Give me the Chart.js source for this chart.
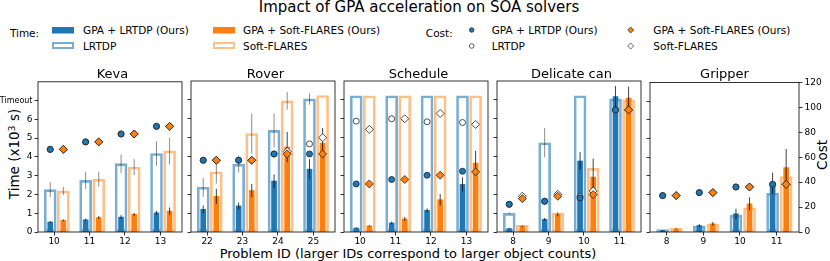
<!DOCTYPE html>
<html>
<head>
<meta charset="utf-8">
<script src="https://cdn.jsdelivr.net/npm/chart.js@4.4.1/dist/chart.umd.min.js"></script>
<style>
  html, body { margin: 0; padding: 0; background: #fff; }
  #fig { position: relative; width: 830px; height: 261px; overflow: hidden; font-family: 'DejaVu Sans', sans-serif; color: #000; }
  .panel { position: absolute; }
  .txt { position: absolute; white-space: nowrap; line-height: 1; }
  .c { transform: translate(-50%, -50%); }
  .l { transform: translateY(-50%); }
  .rot { transform: translate(-50%, -50%) rotate(-90deg); }
  sup { font-size: 0.7em; vertical-align: 0.45em; line-height: 0; }
</style>
</head>
<body>
<div id="fig">
  <div class="txt c" style="left:419px; top:7px; font-size:15px">Impact of GPA acceleration on SOA solvers</div>

  <!-- legend -->
  <svg width="830" height="60" style="position:absolute; left:0; top:0">
    <rect x="52" y="27" width="22" height="6.5" fill="#1f77b4"/>
    <rect x="53" y="43" width="20" height="5" fill="none" stroke="rgba(31,119,180,0.6)" stroke-width="2"/>
    <rect x="213" y="27" width="22" height="6.5" fill="#ff7f0e"/>
    <rect x="214" y="43" width="20" height="5" fill="none" stroke="rgba(255,127,14,0.5)" stroke-width="2"/>
    <circle cx="471.7" cy="30" r="2.3" fill="#1f77b4" stroke="#222" stroke-width="0.7"/>
    <circle cx="471.7" cy="46" r="2.3" fill="#fff" stroke="#222" stroke-width="0.7"/>
    <polygon points="630.7,27 633.7,30 630.7,33 627.7,30" fill="#ff7f0e" stroke="#222" stroke-width="0.7"/>
    <polygon points="630.7,43 633.7,46 630.7,49 627.7,46" fill="#fff" stroke="#222" stroke-width="0.7"/>
  </svg>
  <div class="txt c" style="left:24.5px; top:33px; font-size:10.5px">Time:</div>
  <div class="txt l" style="left:83px; top:30px; font-size:10.5px">GPA + LRTDP (Ours)</div>
  <div class="txt l" style="left:83px; top:46px; font-size:10.5px">LRTDP</div>
  <div class="txt l" style="left:243px; top:30px; font-size:10.5px">GPA + Soft-FLARES (Ours)</div>
  <div class="txt l" style="left:243px; top:46px; font-size:10.5px">Soft-FLARES</div>
  <div class="txt c" style="left:439.3px; top:33px; font-size:10.5px">Cost:</div>
  <div class="txt l" style="left:491.7px; top:30px; font-size:10.5px">GPA + LRTDP (Ours)</div>
  <div class="txt l" style="left:491.7px; top:46px; font-size:10.5px">LRTDP</div>
  <div class="txt l" style="left:653.3px; top:30px; font-size:10.5px">GPA + Soft-FLARES (Ours)</div>
  <div class="txt l" style="left:653.3px; top:46px; font-size:10.5px">Soft-FLARES</div>

  <!-- axis labels -->
  <div class="txt rot" style="left:15px; top:154px; font-size:13.5px">Time (x10<sup>3</sup> s)</div>
  <div class="txt rot" style="left:822.7px; top:155px; font-size:13.5px">Cost</div>
  <div class="txt c" style="left:408px; top:252.7px; font-size:13px">Problem ID (larger IDs correspond to larger object counts)</div>
</div>

<script>
// Data (time in 10^3 s, cost in plan cost units)
const panelNames = ['Keva', 'Rover', 'Schedule', 'Delicate can', 'Gripper'];
const problemIds = [[10, 11, 12, 13], [22, 23, 24, 25], [10, 11, 12, 13], [8, 9, 10, 11], [8, 9, 10, 11]];
const timeTicks = [0, 1, 2, 3, 4, 5, 6, 7];
const timeTickLabels = ['0', '1', '2', '3', '4', '5', '6', 'Timeout'];
const costTicks = [0, 20, 40, 60, 80, 100, 120];

const gpaLrtdpTime = [[0.53, 0.65, 0.80, 1.02], [1.20, 1.38, 2.70, 3.33], [0.21, 0.48, 1.15, 2.52], [0.18, 0.67, 3.76, 7.18], [0.09, 0.35, 0.97, 2.60]];
const gpaLrtdpErr  = [[0.05, 0.06, 0.10, 0.10], [0.20, 0.18, 0.35, 0.53], [0.03, 0.07, 0.10, 0.38], [0.03, 0.08, 0.47, 0.55], [0.02, 0.07, 0.28, 0.57]];
const lrtdpTime    = [[2.26, 2.75, 3.64, 4.18], [2.37, 3.60, 5.38, 7.05], [7.22, 7.22, 7.22, 7.22], [0.99, 4.73, 7.22, 7.05], [0.13, 0.32, 0.90, 2.07]];
const lrtdpErr     = [[0.40, 0.45, 0.50, 0.65], [0.50, 0.45, 0.90, 0.30], [0, 0, 0, 0], [0.05, 0.78, 0, 0], [0, 0, 0, 0]];
const gpaSfTime    = [[0.62, 0.77, 0.94, 1.11], [1.89, 2.20, 4.50, 4.71], [0.32, 0.69, 1.71, 3.65], [0.30, 0.93, 2.91, 7.10], [0.16, 0.44, 1.50, 3.44]];
const gpaSfErr     = [[0.05, 0.08, 0.08, 0.20], [0.40, 0.35, 0.80, 0.80], [0.04, 0.10, 0.30, 0.65], [0.04, 0.10, 0.97, 0.60], [0.03, 0.10, 0.35, 1.00]];
const sfTime       = [[2.19, 2.81, 3.46, 4.32], [3.19, 5.22, 6.95, 7.23], [7.22, 7.22, 7.22, 7.22], [0.37, 1.02, 3.37, 7.00], [0.20, 0.42, 1.29, 2.97]];
const sfErr        = [[0.22, 0.40, 0.42, 0.72], [0.62, 1.06, 0.47, 0], [0, 0, 0, 0], [0, 0, 0, 0], [0, 0, 0, 0]];

const gpaLrtdpCost = [[66, 72, 78.3, 84.4], [57, 57, 62, 62], [38.2, 41.7, 45.1, 48.3], [22, 24.4, 27, 97], [29.2, 31.6, 36.1, 38.2]];
const lrtdpCost    = [[66, 72, 78.3, 84.4], [57, 57, 62, 70], [88.1, 90, 87.6, 87], [22, 24.4, 28, 97], [29.2, 31.6, 36.1, 38.2]];
const gpaSfCost    = [[66, 72, 78.3, 84.4], [57, 57, 62, 62], [38.2, 41.7, 45.1, 47.8], [26.5, 28.4, 29.7, 97], [29.2, 31.6, 36.1, 38.2]];
const sfCost       = [[66, 72, 78.3, 84.4], [57, 57, 64, 75], [81.5, 90, 94.2, 85.5], [28.4, 30, 32.6, 97], [29.2, 31.6, 36.1, 38.2]];

// layout
const PANEL_LEFT = [38, 191, 344, 497, 650];
const PANEL_TOP = 81, PANEL_W = 149, PANEL_H = 151;
const PAD_TOP = 6, X_AXIS_H = 22;
const X_MIN = -0.455, X_MAX = 3.61;
const BLUE_OFF = -0.11, ORANGE_OFF = 0.26;

const BLUE = '#1f77b4', ORANGE = '#ff7f0e';
const BLUE_EDGE = 'rgba(31,119,180,0.6)', ORANGE_EDGE = 'rgba(255,127,14,0.5)';
const ERR_DARK = 'rgba(0,0,0,0.75)', ERR_LIGHT = 'rgba(0,0,0,0.45)';

Chart.defaults.font.family = "'DejaVu Sans', sans-serif";
Chart.defaults.color = '#000';

// vertical error bars drawn right after their bar dataset
const errorBars = {
  id: 'errorBars',
  afterDatasetDraw(chart, args) {
    const ds = chart.data.datasets[args.index];
    if (!ds.errors) return;
    const ctx = chart.ctx;
    const y = chart.scales.y;
    ctx.save();
    ctx.strokeStyle = ds.errorColor;
    ctx.lineWidth = 1;
    args.meta.data.forEach((bar, i) => {
      const e = ds.errors[i];
      if (!e) return;
      const v = ds.data[i].y;
      ctx.beginPath();
      ctx.moveTo(bar.x, y.getPixelForValue(v - e));
      ctx.lineTo(bar.x, y.getPixelForValue(v + e));
      ctx.stroke();
    });
    ctx.restore();
  }
};

// box around each panel (matplotlib spines)
const frame = {
  id: 'frame',
  afterDatasetsDraw(chart) {
    const { ctx, chartArea: a } = chart;
    ctx.save();
    ctx.strokeStyle = '#000';
    ctx.lineWidth = 0.8;
    ctx.strokeRect(a.left, a.top, a.right - a.left, a.bottom - a.top);
    ctx.restore();
  }
};

function buildPanel(p) {
  const first = p === 0;
  const last = p === panelNames.length - 1;
  const padL = first ? PANEL_LEFT[0] : 5;
  const padR = last ? 31 : 5;
  const ids = problemIds[p];

  const box = document.createElement('div');
  box.className = 'panel';
  box.style.left = (PANEL_LEFT[p] - padL) + 'px';
  box.style.top = (PANEL_TOP - PAD_TOP) + 'px';
  const canvas = document.createElement('canvas');
  canvas.width = padL + PANEL_W + padR;
  canvas.height = PAD_TOP + PANEL_H + X_AXIS_H;
  canvas.style.width = canvas.width + 'px';
  canvas.style.height = canvas.height + 'px';
  box.appendChild(canvas);
  const fig = document.getElementById('fig');
  fig.appendChild(box);

  const title = document.createElement('div');
  title.className = 'txt c';
  title.style.left = (PANEL_LEFT[p] + PANEL_W / 2) + 'px';
  title.style.top = '73px';
  title.style.fontSize = '13px';
  title.textContent = panelNames[p];
  fig.appendChild(title);

  const at = (vals, off) => vals.map((v, i) => ({ x: i + off, y: v }));
  const tickGrid = { drawOnChartArea: false, tickLength: 3.5, color: '#000', lineWidth: 0.8 };

  new Chart(canvas, {
    type: 'bar',
    data: {
      datasets: [
        { label: 'LRTDP', data: at(lrtdpTime[p], BLUE_OFF), backgroundColor: 'rgba(0,0,0,0)', borderColor: BLUE_EDGE,
          borderWidth: 2, borderSkipped: false, barThickness: 12, grouped: false, order: 7,
          xAxisID: 'x', yAxisID: 'y', errors: lrtdpErr[p], errorColor: ERR_LIGHT },
        { label: 'Soft-FLARES', data: at(sfTime[p], ORANGE_OFF), backgroundColor: 'rgba(0,0,0,0)', borderColor: ORANGE_EDGE,
          borderWidth: 2, borderSkipped: false, barThickness: 12, grouped: false, order: 6,
          xAxisID: 'x', yAxisID: 'y', errors: sfErr[p], errorColor: ERR_LIGHT },
        { label: 'GPA + LRTDP (Ours)', data: at(gpaLrtdpTime[p], BLUE_OFF), backgroundColor: BLUE, borderWidth: 0,
          barThickness: 5, grouped: false, order: 5, xAxisID: 'x', yAxisID: 'y', errors: gpaLrtdpErr[p], errorColor: ERR_DARK },
        { label: 'GPA + Soft-FLARES (Ours)', data: at(gpaSfTime[p], ORANGE_OFF), backgroundColor: ORANGE, borderWidth: 0,
          barThickness: 5, grouped: false, order: 4, xAxisID: 'x', yAxisID: 'y', errors: gpaSfErr[p], errorColor: ERR_DARK },
        { type: 'line', label: 'LRTDP cost', data: at(lrtdpCost[p], BLUE_OFF), xAxisID: 'x', yAxisID: 'y1', showLine: false,
          pointStyle: 'circle', pointRadius: 3, pointBackgroundColor: '#fff', pointBorderColor: '#222', pointBorderWidth: 0.8, order: 3 },
        { type: 'line', label: 'Soft-FLARES cost', data: at(sfCost[p], ORANGE_OFF), xAxisID: 'x', yAxisID: 'y1', showLine: false,
          pointStyle: 'rectRot', pointRadius: 4, pointBackgroundColor: '#fff', pointBorderColor: '#222', pointBorderWidth: 0.8, order: 2 },
        { type: 'line', label: 'GPA + LRTDP cost', data: at(gpaLrtdpCost[p], BLUE_OFF), xAxisID: 'x', yAxisID: 'y1', showLine: false,
          pointStyle: 'circle', pointRadius: 3, pointBackgroundColor: BLUE, pointBorderColor: '#222', pointBorderWidth: 0.8, order: 1 },
        { type: 'line', label: 'GPA + Soft-FLARES cost', data: at(gpaSfCost[p], ORANGE_OFF), xAxisID: 'x', yAxisID: 'y1', showLine: false,
          pointStyle: 'rectRot', pointRadius: 4, pointBackgroundColor: ORANGE, pointBorderColor: '#222', pointBorderWidth: 0.8, order: 0 }
      ]
    },
    options: {
      responsive: false,
      animation: false,
      events: [],
      layout: { padding: { top: PAD_TOP, left: 0, bottom: 0, right: last ? 0 : padR } },
      plugins: { legend: { display: false }, tooltip: { enabled: false } },
      scales: {
        x: {
          type: 'linear', min: X_MIN, max: X_MAX, offset: false,
          afterBuildTicks: (s) => { s.ticks = ids.map((_, i) => ({ value: i })); },
          afterFit: (s) => { s.height = X_AXIS_H; },
          ticks: { callback: (v) => ids[v], font: { size: 9 }, padding: 1, maxRotation: 0, autoSkip: false },
          grid: Object.assign({ offset: false }, tickGrid),
          border: { display: false }
        },
        y: {
          position: 'left', min: 0, max: 8,
          afterBuildTicks: (s) => { s.ticks = timeTicks.map((v) => ({ value: v })); },
          afterFit: (s) => { s.width = padL; },
          ticks: {
            display: first,
            callback: (v) => timeTickLabels[timeTicks.indexOf(v)],
            font: (c) => ({ size: c.tick && c.tick.value === 7 ? 8 : 9 }),
            padding: 2
          },
          grid: tickGrid,
          border: { display: false }
        },
        y1: {
          display: last, position: 'right', min: 0, max: 120,
          afterBuildTicks: (s) => { s.ticks = costTicks.map((v) => ({ value: v })); },
          afterFit: (s) => { s.width = padR; },
          ticks: { font: { size: 9 }, padding: 2 },
          grid: tickGrid,
          border: { display: false }
        }
      }
    },
    plugins: [errorBars, frame]
  });
}

panelNames.forEach((_, p) => buildPanel(p));
</script>
</body>
</html>
